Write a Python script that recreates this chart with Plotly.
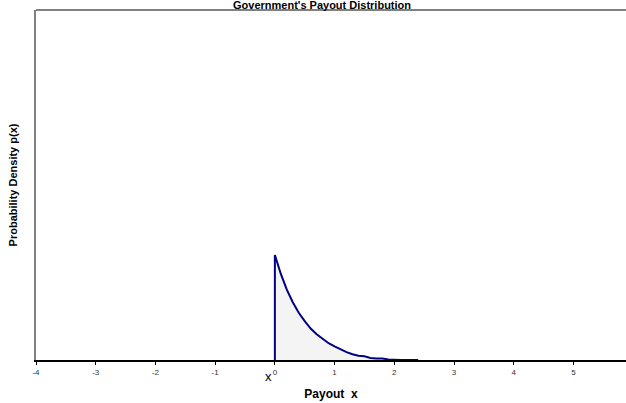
import plotly.graph_objects as go

title_text = "Government's Payout Distribution"
x_title = "Payout  x"
y_title = "Probability Density p(x)"

payout_x = [0, 0, 0.1, 0.2, 0.3, 0.4, 0.5, 0.6, 0.7, 0.8, 0.9, 1.0, 1.1, 1.2, 1.3, 1.4,
            1.5, 1.6, 1.7, 1.8, 1.9, 2.0, 2.1, 2.2, 2.3, 2.4]
density = [0, 2.00, 1.64, 1.34, 1.10, 0.90, 0.74, 0.60, 0.49, 0.40, 0.32, 0.26, 0.20, 0.15,
           0.11, 0.08, 0.07, 0.04, 0.03, 0.03, 0.01, 0.0, 0.0, 0.0, 0.0, 0.0]
tick_vals = [-4, -3, -2, -1, 0, 1, 2, 3, 4, 5]

fig = go.Figure()
fig.add_trace(go.Scatter(x=payout_x, y=density, mode="lines", fill="tozeroy",
                         fillcolor="#f4f4f4", line=dict(width=0, color="rgba(0,0,0,0)"),
                         hoverinfo="skip", showlegend=False))
fig.add_trace(go.Scatter(x=payout_x, y=density, mode="lines",
                         line=dict(color="#000080", width=2), showlegend=False))

fig.update_layout(
    width=626, height=403,
    margin=dict(l=36, r=0, t=10, b=43),
    plot_bgcolor="white", paper_bgcolor="white",
    font=dict(family="Arial, Liberation Sans, sans-serif"),
    xaxis=dict(range=[-4, 5.88], tickvals=tick_vals, ticktext=[str(v) for v in tick_vals],
               automargin=False,
               showgrid=False, zeroline=False, showline=True, linecolor="black", linewidth=2,
               ticks="outside", ticklen=3, tickcolor="black", tickwidth=1,
               tickfont=dict(size=8, color="#333333"),
               title=dict(text="<b>" + x_title + "</b>", font=dict(size=12, color="black"), standoff=14)),
    yaxis=dict(range=[0, 6.67], showticklabels=False, showgrid=False, zeroline=False,
               automargin=False,
               showline=True, linecolor="#808080", linewidth=2, ticks="",
               title=dict(text="<b>" + y_title + "</b>", font=dict(size=11, color="black"), standoff=14)),
    shapes=[dict(type="line", xref="paper", yref="paper", x0=0, x1=1, y0=1, y1=1,
                 line=dict(color="#808080", width=2))],
    annotations=[
        dict(text="<b>" + title_text + "</b>", xref="paper", yref="paper", x=0.485, y=1 + 5 / 350,
             xanchor="center", yanchor="middle", showarrow=False, font=dict(size=11, color="black")),
        dict(text="x", xref="x", yref="paper", x=-0.1, y=-17 / 350, xanchor="center", yanchor="middle",
             showarrow=False, font=dict(size=13, color="black")),
    ],
)

fig.write_html("out.html", config={"displayModeBar": False},
               post_script="document.body.style.margin='0';document.body.style.overflow='hidden';")
